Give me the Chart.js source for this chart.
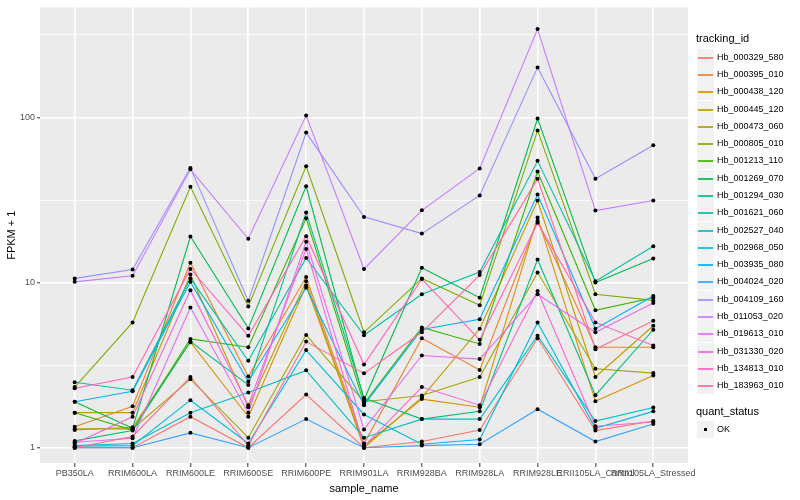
<!DOCTYPE html>
<html><head><meta charset="utf-8">
<script src="https://cdn.jsdelivr.net/npm/chart.js@4.4.1/dist/chart.umd.min.js"></script>
<style>
html,body{margin:0;padding:0;background:#fff;}
#wrap{position:relative;width:800px;height:500px;}
#c{position:absolute;left:0;top:0;}
.lg{position:absolute;font-family:"Liberation Sans",Arial,Helvetica,sans-serif;color:#000;white-space:nowrap;}
.ttl{font-size:11px;}
.lab{font-size:9px;line-height:17px;}
.key{position:absolute;width:17px;height:17px;background:#F2F2F2;}
</style>
</head><body>
<div id="wrap"><canvas id="c" width="800" height="500"></canvas></div>
<script>
// ---- data ----
const categories = ['PB350LA','RRIM600LA','RRIM600LE','RRIM600SE','RRIM600PE','RRIM901LA','RRIM928BA','RRIM928LA','RRIM928LE','RRII105LA_Control','RRII105LA_Stressed'];
const trackingIds = ['Hb_000329_580','Hb_000395_010','Hb_000438_120','Hb_000445_120','Hb_000473_060','Hb_000805_010','Hb_001213_110','Hb_001269_070','Hb_001294_030','Hb_001621_060','Hb_002527_040','Hb_002968_050','Hb_003935_080','Hb_004024_020','Hb_004109_160','Hb_011053_020','Hb_019613_010','Hb_031330_020','Hb_134813_010','Hb_183963_010'];
const Hb_000329_580 = [1.00, 1.00, 1.54, 1.00, 2.10, 1.00, 1.09, 1.28, 4.60, 1.27, 1.45];
const Hb_000395_010 = [1.34, 1.78, 13.2, 2.70, 10.8, 1.06, 4.60, 2.96, 23.7, 4.06, 4.06];
const Hb_000438_120 = [1.28, 1.33, 4.35, 1.54, 9.6, 1.03, 1.97, 1.76, 24.8, 1.91, 2.74];
const Hb_000445_120 = [1.63, 1.63, 11.2, 1.76, 10.2, 1.00, 2.02, 5.25, 31.4, 2.68, 5.48];
const Hb_000473_060 = [1.30, 1.30, 2.60, 1.15, 4.82, 1.90, 2.07, 2.68, 11.5, 3.01, 2.83];
const Hb_000805_010 = [2.33, 5.74, 38.0, 7.17, 50.6, 5.00, 10.6, 7.30, 83.5, 8.50, 7.80];
const Hb_001213_110 = [1.63, 1.28, 4.56, 4.06, 24.5, 1.85, 5.35, 4.25, 47.1, 6.80, 8.10];
const Hb_001269_070 = [1.90, 1.31, 19.0, 5.28, 38.3, 1.95, 12.3, 8.10, 98.5, 10.0, 14.0];
const Hb_001294_030 = [1.10, 1.27, 4.40, 2.40, 26.6, 2.00, 1.49, 1.66, 13.8, 2.08, 5.18];
const Hb_001621_060 = [2.49, 2.23, 10.6, 3.36, 14.1, 4.80, 8.50, 11.6, 54.6, 10.2, 16.6];
const Hb_002527_040 = [1.03, 1.06, 1.63, 2.16, 2.94, 1.15, 1.49, 1.49, 4.77, 1.45, 1.75];
const Hb_002968_050 = [1.02, 1.03, 1.94, 1.06, 3.90, 1.59, 1.05, 1.12, 5.74, 1.31, 1.66];
const Hb_003935_080 = [1.90, 2.20, 10.1, 2.52, 9.30, 1.81, 5.20, 6.00, 34.1, 5.25, 8.30];
const Hb_004024_020 = [1.00, 1.00, 1.23, 1.00, 1.49, 1.00, 1.03, 1.05, 1.71, 1.09, 1.39];
const Hb_004109_160 = [10.6, 12.0, 49.5, 7.75, 81.0, 25.0, 19.8, 33.7, 201, 42.6, 67.8];
const Hb_011053_020 = [10.1, 11.0, 48.5, 18.4, 102.6, 12.1, 27.4, 49.1, 343, 27.3, 31.4];
const Hb_019613_010 = [1.08, 1.14, 7.07, 1.63, 17.7, 1.29, 3.62, 3.44, 8.50, 5.00, 7.53];
const Hb_031330_020 = [1.06, 1.54, 9.00, 1.81, 16.0, 1.02, 2.33, 1.81, 8.90, 1.35, 1.43];
const Hb_134813_010 = [2.29, 2.68, 12.1, 4.76, 19.1, 3.19, 10.5, 4.50, 23.0, 5.74, 4.16];
const Hb_183963_010 = [1.00, 1.17, 2.68, 1.03, 4.39, 2.82, 5.00, 11.1, 42.6, 3.95, 5.87];
const seriesValues = [Hb_000329_580,Hb_000395_010,Hb_000438_120,Hb_000445_120,Hb_000473_060,Hb_000805_010,Hb_001213_110,Hb_001269_070,Hb_001294_030,Hb_001621_060,Hb_002527_040,Hb_002968_050,Hb_003935_080,Hb_004024_020,Hb_004109_160,Hb_011053_020,Hb_019613_010,Hb_031330_020,Hb_134813_010,Hb_183963_010];
const yMajorTicks = [1, 10, 100];
const yMajorLabels = ['1', '10', '100'];
const yMinorTicks = [3.1623, 31.623, 316.23];
const quantStatus = ['OK'];

// ---- ggplot hue palette (HCL, c=100, l=65) ----
function hcl(h, c, l) {
  const hr = h * Math.PI / 180, U = c * Math.cos(hr), V = c * Math.sin(hr);
  const Xn = 95.047, Yn = 100, Zn = 108.883;
  const un = 4 * Xn / (Xn + 15 * Yn + 3 * Zn), vn = 9 * Yn / (Xn + 15 * Yn + 3 * Zn);
  const Y = l > 8 ? Yn * Math.pow((l + 16) / 116, 3) : Yn * l / 903.3;
  const u = U / (13 * l) + un, v = V / (13 * l) + vn;
  const X = 9 * Y * u / (4 * v);
  const Z = (9 * Y / v - X - 15 * Y) / 3;
  const x = X / 100, y = Y / 100, z = Z / 100;
  let r = 3.2404542 * x - 1.5371385 * y - 0.4985314 * z;
  let g = -0.9692660 * x + 1.8760108 * y + 0.0415560 * z;
  let b = 0.0556434 * x - 0.2040259 * y + 1.0572252 * z;
  const gam = t => { t = t <= 0.0031308 ? 12.92 * t : 1.055 * Math.pow(t, 1 / 2.4) - 0.055; return Math.round(Math.max(0, Math.min(1, t)) * 255); };
  return 'rgb(' + gam(r) + ',' + gam(g) + ',' + gam(b) + ')';
}
const n = trackingIds.length;
const colors = trackingIds.map((_, i) => hcl(15 + 360 * i / n, 100, 65));

// ---- datasets ----
const datasets = [];
seriesValues.forEach((vals, i) => {
  datasets.push({
    label: trackingIds[i] + ' pts', data: vals.map((v, j) => ({x: j, y: v})),
    showLine: false, pointRadius: 2, pointBackgroundColor: '#000', pointBorderWidth: 0,
    borderColor: '#000', order: 0
  });
});
seriesValues.forEach((vals, i) => {
  datasets.push({
    label: trackingIds[i], data: vals.map((v, j) => ({x: j, y: v})),
    showLine: true, borderColor: colors[i], borderWidth: 1.1, pointRadius: 0,
    tension: 0, order: 100 - i
  });
});

const panelBg = {
  id: 'panelBg',
  beforeDraw(chart) {
    const a = chart.chartArea, ctx = chart.ctx;
    ctx.save(); ctx.fillStyle = '#EBEBEB';
    ctx.fillRect(a.left, a.top, a.right - a.left, a.bottom - a.top);
    ctx.restore();
  }
};
const isMajor = v => yMajorTicks.some(t => Math.abs(t - v) < 1e-6);
const FONT = '"Liberation Sans", Arial, Helvetica, sans-serif';

new Chart(document.getElementById('c'), {
  type: 'scatter',
  data: {datasets},
  plugins: [panelBg],
  options: {
    responsive: false, animation: false, events: [],
    layout: {padding: {top: 5, right: 112, left: 0, bottom: 0}},
    plugins: {legend: {display: false}, tooltip: {enabled: false}},
    scales: {
      x: {
        type: 'linear', min: -0.6, max: 10.6,
        afterBuildTicks: s => { s.ticks = categories.map((_, i) => ({value: i})); },
        afterFit: s => { s.height = 37; },
        border: {display: false},
        grid: {color: '#FFFFFF', lineWidth: 1.6, drawTicks: true, tickLength: 4, tickColor: '#333333', tickWidth: 1},
        ticks: {autoSkip: false, maxRotation: 0, minRotation: 0, padding: 1, color: '#4D4D4D',
          font: {family: FONT, size: 9}, callback: v => categories[v]},
        title: {display: true, text: 'sample_name', color: '#000', font: {family: FONT, size: 11}, padding: {top: 0, bottom: 4}}
      },
      y: {
        type: 'logarithmic', min: 0.808, max: 464,
        afterBuildTicks: s => { s.ticks = yMajorTicks.concat(yMinorTicks).sort((a, b) => a - b).map(v => ({value: v})); },
        afterFit: s => { s.width = 40; },
        border: {display: false},
        grid: {color: '#FFFFFF', lineWidth: c => isMajor(c.tick.value) ? 1.6 : 0.8, drawTicks: true, tickLength: 3,
          tickColor: c => isMajor(c.tick.value) ? '#333333' : 'rgba(0,0,0,0)', tickWidth: 1},
        ticks: {padding: 2, color: '#4D4D4D', font: {family: FONT, size: 9},
          callback: v => { const k = yMajorTicks.findIndex(t => Math.abs(t - v) < 1e-6); return k >= 0 ? yMajorLabels[k] : ''; }},
        title: {display: true, text: 'FPKM + 1', color: '#000', font: {family: FONT, size: 11}, padding: {top: 5, bottom: 0}}
      }
    }
  }
});

// ---- legend (HTML text) ----
const wrap = document.getElementById('wrap');
function add(txt, cls, left, top) {
  const d = document.createElement('div'); d.className = 'lg ' + cls; d.style.left = left + 'px'; d.style.top = top + 'px';
  d.textContent = txt; wrap.appendChild(d); return d;
}
add('tracking_id', 'ttl', 696, 32);
trackingIds.forEach((id, i) => {
  const top = Math.round(57.3 + i * 17.28 - 8.5);
  const k = document.createElement('div'); k.className = 'key'; k.style.left = '697px'; k.style.top = top + 'px';
  const ln = document.createElement('div'); ln.style.cssText = 'position:absolute;left:1px;top:8px;width:15px;height:2px;opacity:0.85;background:' + colors[i];
  k.appendChild(ln); wrap.appendChild(k);
  add(id, 'lab', 717, top);
});
add('quant_status', 'ttl', 696, 405);
quantStatus.forEach((q, i) => {
  const top = Math.round(429.5 + i * 17.28 - 8.5);
  const k = document.createElement('div'); k.className = 'key'; k.style.left = '697px'; k.style.top = top + 'px';
  const p = document.createElement('div'); p.style.cssText = 'position:absolute;left:7px;top:7px;width:3px;height:3px;background:#000';
  k.appendChild(p); wrap.appendChild(k);
  add(q, 'lab', 717, top);
});
</script>
</body></html>
